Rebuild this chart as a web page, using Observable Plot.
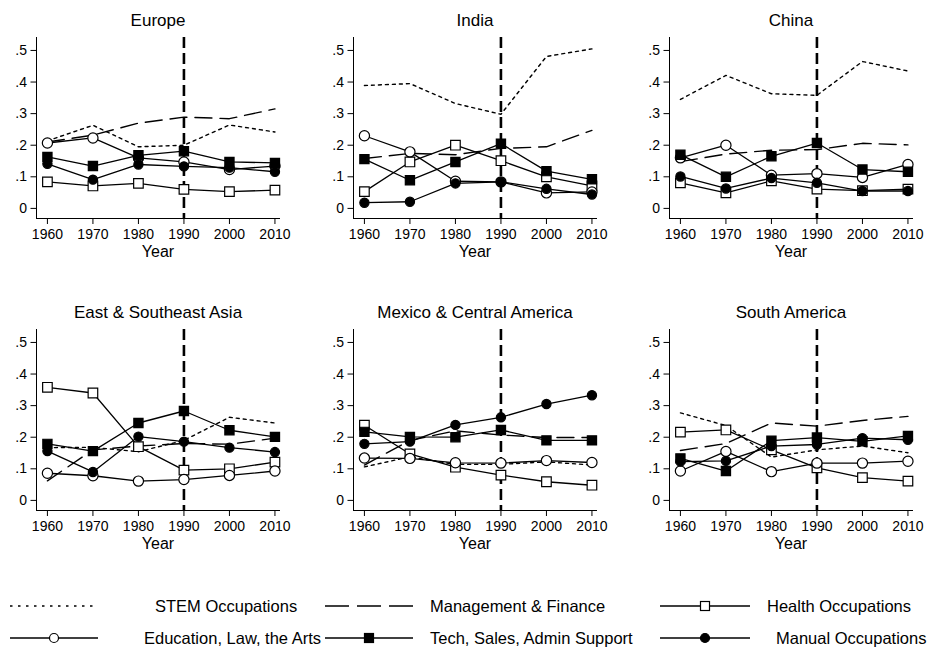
<!DOCTYPE html>
<html><head><meta charset="utf-8">
<script src="https://cdn.jsdelivr.net/npm/d3@7"></script>
<script src="https://cdn.jsdelivr.net/npm/@observablehq/plot@0.6"></script>
<style>
body{margin:0;background:#fff;}
#chart{position:relative;width:933px;height:649px;background:#fff;overflow:hidden;font-family:"Liberation Sans",Arial,Helvetica,sans-serif;}
#chart > svg{position:absolute;}
</style></head><body><div id="chart"></div>
<script>
// ---------- data ----------
const years = [1960, 1970, 1980, 1990, 2000, 2010];
const regions = ["Europe", "India", "China", "East & Southeast Asia", "Mexico & Central America", "South America"];
const seriesNames = ["STEM Occupations", "Management & Finance", "Health Occupations", "Education, Law, the Arts", "Tech, Sales, Admin Support", "Manual Occupations"];
const yTicks = [0, 0.1, 0.2, 0.3, 0.4, 0.5];
const markerYear = 1990;

// one row per region (same order as `regions`), one value per year
const stem = [
  [0.214, 0.263, 0.195, 0.200, 0.264, 0.242],
  [0.389, 0.395, 0.332, 0.298, 0.481, 0.505],
  [0.345, 0.421, 0.363, 0.358, 0.465, 0.435],
  [0.167, 0.168, 0.154, 0.190, 0.263, 0.245],
  [0.106, 0.138, 0.114, 0.114, 0.122, 0.112],
  [0.277, 0.237, 0.137, 0.160, 0.172, 0.151]
];
const management = [
  [0.210, 0.232, 0.270, 0.289, 0.284, 0.315],
  [0.158, 0.174, 0.170, 0.190, 0.195, 0.247],
  [0.148, 0.172, 0.184, 0.186, 0.206, 0.201],
  [0.062, 0.160, 0.172, 0.180, 0.178, 0.197],
  [0.112, 0.190, 0.220, 0.207, 0.199, 0.199],
  [0.158, 0.180, 0.245, 0.235, 0.253, 0.266]
];
const health = [
  [0.084, 0.071, 0.079, 0.060, 0.053, 0.058],
  [0.053, 0.147, 0.200, 0.151, 0.100, 0.071],
  [0.081, 0.049, 0.087, 0.061, 0.056, 0.061],
  [0.358, 0.340, 0.170, 0.096, 0.100, 0.121],
  [0.238, 0.147, 0.105, 0.080, 0.059, 0.048],
  [0.216, 0.223, 0.160, 0.103, 0.072, 0.061]
];
const education = [
  [0.207, 0.223, 0.160, 0.147, 0.123, 0.134],
  [0.230, 0.179, 0.086, 0.084, 0.049, 0.052],
  [0.160, 0.200, 0.105, 0.110, 0.098, 0.139],
  [0.086, 0.078, 0.061, 0.066, 0.079, 0.093],
  [0.134, 0.133, 0.119, 0.118, 0.126, 0.120],
  [0.093, 0.155, 0.091, 0.118, 0.118, 0.124]
];
const tech = [
  [0.163, 0.134, 0.168, 0.181, 0.147, 0.144],
  [0.156, 0.089, 0.147, 0.205, 0.118, 0.092],
  [0.170, 0.100, 0.165, 0.207, 0.123, 0.116],
  [0.179, 0.156, 0.245, 0.283, 0.222, 0.201],
  [0.217, 0.201, 0.200, 0.223, 0.190, 0.190],
  [0.133, 0.093, 0.189, 0.199, 0.187, 0.204]
];
const manual = [
  [0.141, 0.091, 0.139, 0.133, 0.129, 0.116],
  [0.018, 0.021, 0.079, 0.084, 0.062, 0.044],
  [0.101, 0.063, 0.096, 0.081, 0.055, 0.055],
  [0.156, 0.090, 0.202, 0.186, 0.167, 0.153],
  [0.179, 0.186, 0.239, 0.263, 0.305, 0.333],
  [0.123, 0.125, 0.172, 0.177, 0.197, 0.192]
];

// ---------- styles ----------
const FONT = '"Liberation Sans", Arial, Helvetica, sans-serif';
const seriesStyles = [
  {data: stem,       dash: "3,4",  marker: null},
  {data: management, dash: "17,8", marker: null},
  {data: health,     dash: null,   marker: "square", fill: "white"},
  {data: education,  dash: null,   marker: "circle", fill: "white"},
  {data: tech,       dash: null,   marker: "square", fill: "black"},
  {data: manual,     dash: null,   marker: "circle", fill: "black"}
];

const panelLeft = [0, 316.5, 632.7];
const panelTop = [0, 292];
const container = document.getElementById("chart");

function yFmt(d) { return d === 0 ? "0" : d3.format(".1f")(d).replace(/^0/, ""); }

regions.forEach((region, ri) => {
  const marks = [Plot.ruleX([markerYear], {stroke: "black", strokeWidth: 2.6, strokeDasharray: "11,5"})];
  seriesStyles.forEach((s) => {
    const rows = years.map((yr, i) => ({year: yr, value: s.data[ri][i]}));
    marks.push(Plot.line(rows, {x: "year", y: "value", stroke: "black", strokeWidth: s.marker ? 1.3 : 1.4, strokeDasharray: s.dash || undefined}));
  });
  seriesStyles.forEach((s) => {
    if (!s.marker) return;
    const rows = years.map((yr, i) => ({year: yr, value: s.data[ri][i]}));
    const isSquare = s.marker === "square";
    const r = isSquare ? (s.fill === "white" ? 5.4 : 5.2) : (s.fill === "white" ? 5.1 : 4.6);
    marks.push(Plot.dot(rows, {x: "year", y: "value", symbol: s.marker, r, fill: s.fill, stroke: "black", strokeWidth: 1.2}));
  });
  marks.push(Plot.text([region], {text: d => d, frameAnchor: "top", lineAnchor: "middle", dy: -17, fontSize: 17, fill: "black"}));
  marks.push(Plot.text(["Year"], {text: d => d, frameAnchor: "bottom", lineAnchor: "middle", dy: 33, fontSize: 16, fill: "black"}));

  const svg = Plot.plot({
    width: 300,
    height: 262,
    marginLeft: 36,
    marginRight: 21,
    marginTop: 37,
    marginBottom: 44,
    style: {fontFamily: FONT, fontSize: "14px", color: "black", background: "transparent", overflow: "visible"},
    x: {domain: [1957.6, 2011], ticks: years, tickFormat: d => String(d), tickSize: 6, tickPadding: 5, line: true, label: null},
    y: {domain: [-0.032, 0.541], ticks: yTicks, tickFormat: yFmt, tickSize: 5.5, tickPadding: 4, line: true, label: null},
    marks
  });
  svg.style.left = panelLeft[ri % 3] + "px";
  svg.style.top = panelTop[Math.floor(ri / 3)] + "px";
  container.appendChild(svg);
});

// ---------- legend ----------
const legendItems = [
  {x0: 10, x1: 98, tx: 155, y: 21},
  {x0: 325, x1: 413, tx: 430, y: 21},
  {x0: 660, x1: 750, tx: 767, y: 21},
  {x0: 10, x1: 98, tx: 144, y: 53},
  {x0: 325, x1: 413, tx: 430, y: 53},
  {x0: 660, x1: 750, tx: 776, y: 53}
];
const legendDash = ["2.5,5.5", "24,8", null, null, null, null];
const leg = d3.select(container).append("svg")
  .attr("width", 933).attr("height", 64)
  .style("left", "0px").style("top", "585px")
  .style("font-family", FONT);
seriesNames.forEach((name, i) => {
  const it = legendItems[i], s = seriesStyles[i];
  const g = leg.append("g");
  g.append("line").attr("x1", it.x0).attr("x2", it.x1).attr("y1", it.y).attr("y2", it.y)
    .attr("stroke", "black").attr("stroke-width", 1.6)
    .attr("stroke-dasharray", legendDash[i]);
  const cx = (it.x0 + it.x1) / 2;
  if (s.marker === "square") {
    g.append("rect").attr("x", cx - 4.5).attr("y", it.y - 4.5).attr("width", 9).attr("height", 9)
      .attr("fill", s.fill).attr("stroke", "black").attr("stroke-width", 1.2);
  } else if (s.marker === "circle") {
    g.append("circle").attr("cx", cx).attr("cy", it.y).attr("r", 4.5)
      .attr("fill", s.fill).attr("stroke", "black").attr("stroke-width", 1.2);
  }
  g.append("text").attr("x", it.tx).attr("y", it.y).attr("dy", "0.35em")
    .attr("font-size", 16.5).attr("fill", "black").text(name);
});
</script></body></html>
